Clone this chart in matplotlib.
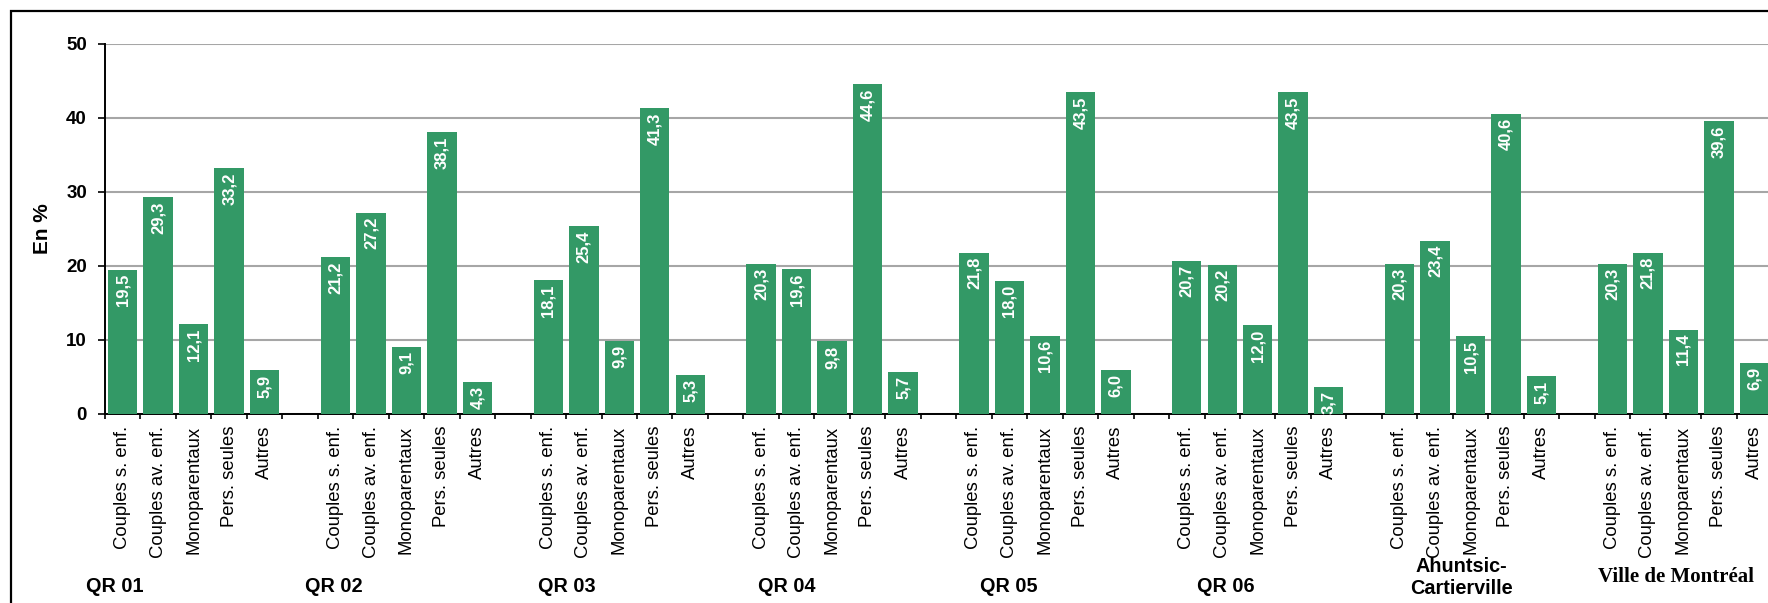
import matplotlib
matplotlib.use("Agg")
import matplotlib.pyplot as plt
from matplotlib.patches import Rectangle
import numpy as np

# ---- data ----
categories = ["Couples s. enf.", "Couples av. enf.", "Monoparentaux", "Pers. seules", "Autres"]
groups = ["QR 01", "QR 02", "QR 03", "QR 04", "QR 05", "QR 06",
          "Ahuntsic-\nCartierville", "Ville de Montréal"]
qr01 = [19.5, 29.3, 12.1, 33.2, 5.9]
qr02 = [21.2, 27.2, 9.1, 38.1, 4.3]
qr03 = [18.1, 25.4, 9.9, 41.3, 5.3]
qr04 = [20.3, 19.6, 9.8, 44.6, 5.7]
qr05 = [21.8, 18.0, 10.6, 43.5, 6.0]
qr06 = [20.7, 20.2, 12.0, 43.5, 3.7]
ahuntsic = [20.3, 23.4, 10.5, 40.6, 5.1]
montreal = [20.3, 21.8, 11.4, 39.6, 6.9]
series = [qr01, qr02, qr03, qr04, qr05, qr06, ahuntsic, montreal]
yticks = [0, 10, 20, 30, 40, 50]

# ---- layout ----
W, H, DPI = 1768, 603, 100
green = "#339966"
slots_per_group = 6
group_label_x = [0.28, 6.44, 13.02, 19.23, 25.47, 31.6, 38.23, 44.29]
group_label_y = [587, 587, 587, 587, 587, 587, 577, 577]

fig = plt.figure(figsize=(W / DPI, H / DPI), dpi=DPI)
ax_left, ax_right, ax_top, ax_bot = 105, 1772, 44, 414
ax = fig.add_axes([ax_left / W, (H - ax_bot) / H, (ax_right - ax_left) / W, (ax_bot - ax_top) / H])

# outer frame
fig.patches.append(Rectangle((11 / W, -0.1), 1.2, (H - 11) / H + 0.1, transform=fig.transFigure,
                             fill=False, edgecolor="black", linewidth=1.6, zorder=0))

xs, vals, labels_pos, labels_txt = [], [], [], []
for g, vals_g in enumerate(series):
    for i, v in enumerate(vals_g):
        x = g * slots_per_group + i + 0.5
        xs.append(x)
        vals.append(v)
        labels_pos.append(x)
        labels_txt.append(categories[i])

ax.bar(xs, vals, width=0.83, color=green, zorder=3)
for x, v in zip(xs, vals):
    ax.annotate(f"{v:.1f}".replace(".", ","), xy=(x, v), xytext=(0, -3), textcoords="offset points",
                rotation=90, ha="center", va="top", color="white", fontsize=12,
                fontweight="bold", family="Liberation Sans", zorder=4)

nslots = len(series) * slots_per_group - 1
ax.set_xlim(0, nslots)
ax.set_ylim(0, 50)
ax.set_yticks(yticks)
ax.set_yticklabels([str(t) for t in yticks], fontsize=13.5, fontweight="bold", family="Liberation Sans")
ax.yaxis.grid(True, color="#a6a6a6", linewidth=1.5, zorder=0)
ax.set_axisbelow(True)

ax.set_xticks(np.arange(0, nslots + 1))
ax.set_xticklabels([])
ax.set_xticks(labels_pos, minor=True)
ax.set_xticklabels(labels_txt, minor=True, rotation=90, fontsize=13.3, family="Liberation Sans",
                   va="top", ha="center")
ax.tick_params(axis="x", which="major", length=3.6, width=1.2, direction="out")
ax.tick_params(axis="x", which="minor", length=0, pad=8.5)
ax.tick_params(axis="y", which="major", length=5, width=1.2, direction="out", pad=8)

for s in ["top", "right"]:
    ax.spines[s].set_visible(False)
for s in ["left", "bottom"]:
    ax.spines[s].set_linewidth(1.4)
    ax.spines[s].set_color("black")

fig.text(43 / W, (H - 229) / H, "En %", rotation=90, ha="center", va="center",
         fontsize=15, fontweight="bold", family="Liberation Sans")

for gi, name in enumerate(groups):
    xf = ax.transData.transform((group_label_x[gi], 0))[0] / W
    yf = (H - group_label_y[gi]) / H
    if name == "Ville de Montréal":
        fig.text(xf, yf, name, ha="center", va="center", fontsize=15, fontweight="bold",
                 family="Liberation Serif")
    else:
        fig.text(xf, yf, name, ha="center", va="center", fontsize=14.3, fontweight="bold",
                 family="Liberation Sans", linespacing=1.2)

fig.savefig("out.png", dpi=DPI)
